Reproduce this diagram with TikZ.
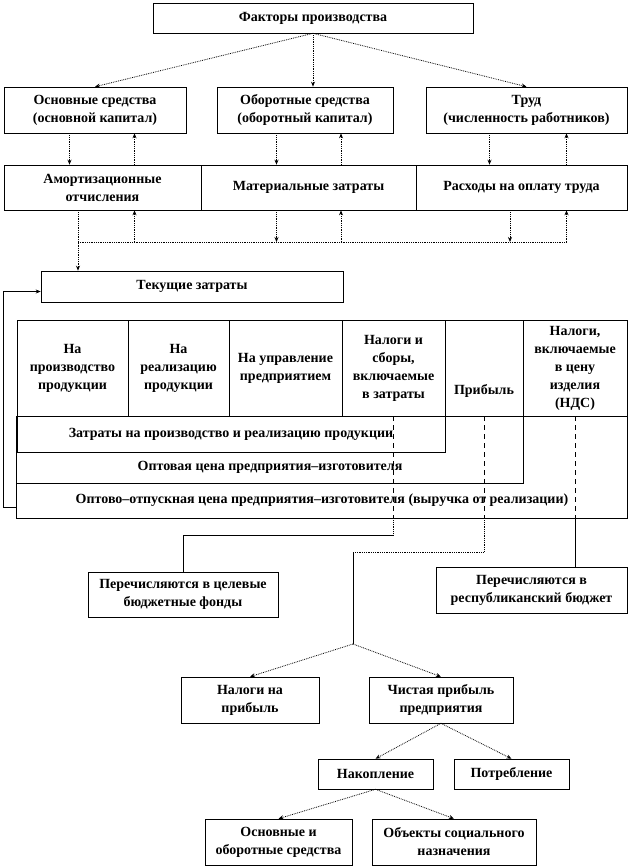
\documentclass[tikz,border=0pt]{standalone}
\usepackage{fontspec}
\setmainfont{Liberation Serif}
\usetikzlibrary{arrows.meta}

\begin{document}
\begin{tikzpicture}[x=1pt,y=-1pt,line width=0.6pt,
        >={Stealth[length=5pt,width=4pt]},
        lbl/.style={align=center,inner sep=2pt,
            font=\fontsize{14}{18}\selectfont\bfseries},
        box/.style={lbl,draw},
        dt/.style={densely dotted,line width=0.8pt},
        dsh/.style={dash pattern=on 5pt off 4pt}]
        \useasboundingbox (0,0) rectangle (628,868);

        % Factors
        \node[box,minimum width=320pt,minimum height=30pt] (fp) at (313,18) {Факторы производства};

        % Resources
        \node[box,minimum width=182pt,minimum height=46pt] (os) at (95,110) {Основные средства\\(основной капитал)};
        \node[box,minimum width=176pt,minimum height=46pt] (ob) at (305,110) {Оборотные средства\\(оборотный капитал)};
        \node[box,minimum width=201pt,minimum height=46pt] (tr) at (526.5,110) {Труд\\(численность работников)};

        % Costs
        \node[box,minimum width=197pt,minimum height=45pt] (am) at (102.5,187.5) {Амортизационные\\отчисления};
        \node[box,minimum width=215pt,minimum height=45pt] (mz) at (308.5,187.5) {Материальные затраты};
        \node[box,minimum width=211pt,minimum height=45pt] (ro) at (521.5,187.5) {Расходы на оплату труда};
        \node[box,minimum width=302pt,minimum height=31pt] (tz) at (192,286.5) {Текущие затраты};

        % Table (head)
        \node[box,minimum width=111pt,minimum height=96pt] (h1) at (72.5,368) {На\\производство\\продукции};
        \node[box,minimum width=101pt,minimum height=96pt] (h2) at (178.5,368) {На\\реализацию\\продукции};
        \node[box,minimum width=113pt,minimum height=96pt] (h3) at (285.5,368) {На управление\\предприятием};
        \node[box,minimum width=103pt,minimum height=96pt] (h4) at (393.5,368) {Налоги и\\сборы,\\включаемые\\в затраты};
        \node[box,minimum width=78pt,minimum height=96pt,text height=56pt,text depth=3pt] (h5) at (484,368) {Прибыль};
        \node[box,minimum width=104pt,minimum height=96pt] (h6) at (575,368) {Налоги,\\включаемые\\в цену\\изделия\\(НДС)};

        % Table (rows)
        \node[box,minimum width=428pt,minimum height=36pt] (zr) at (231,434) {Затраты на производство и реализацию продукции};
        \node[lbl,minimum width=506pt,minimum height=31pt] (oc) at (270,467.5) {Оптовая цена предприятия–изготовителя};
        \node[lbl,minimum width=610pt,minimum height=35pt] (otp) at (322,500.5) {Оптово–отпускная цена предприятия–изготовителя (выручка от реализации)};
        \draw (h1.south west) -- (otp.south west) -- (otp.south east) -- (h6.south east);
        \draw (oc.south west) -- (oc.south east) -- (h5.south east);

        % Distribution
        \node[box,minimum width=190pt,minimum height=45pt] (cf) at (183,594.5) {Перечисляются в целевые\\бюджетные фонды};
        \node[box,minimum width=191pt,minimum height=46pt] (rb) at (531.5,590) {Перечисляются в\\республиканский бюджет};
        \node[box,minimum width=138pt,minimum height=46pt] (np) at (250,700) {Налоги на\\прибыль};
        \node[box,minimum width=144pt,minimum height=46pt] (chp) at (441,700) {Чистая прибыль\\предприятия};
        \node[box,minimum width=115pt,minimum height=30pt] (nak) at (375.5,774) {Накопление};
        \node[box,minimum width=115pt,minimum height=30pt] (potr) at (511.5,774) {Потребление};
        \node[box,minimum width=147pt,minimum height=46pt] (osr) at (278.5,842) {Основные и\\оборотные средства};
        \node[box,minimum width=164pt,minimum height=46pt] (soc) at (454,842) {Объекты социального\\назначения};

        % Factors -> resources
        \draw[dt,->] (fp.south) -- (os.north);
        \draw[dt,->] (fp.south) -- (fp.south |- ob.north);
        \draw[dt,->] (fp.south) -- (tr.north);

        % Resources <-> costs
        \draw[dt,->] (os.south -| 69.5,0) -- (am.north -| 69.5,0);
        \draw[dt,->] (am.north -| 134.5,0) -- (os.south -| 134.5,0);
        \draw[dt,->] (ob.south -| 276.5,0) -- (mz.north -| 276.5,0);
        \draw[dt,->] (mz.north -| 341,0) -- (ob.south -| 341,0);
        \draw[dt,->] (tr.south -| 489.5,0) -- (ro.north -| 489.5,0);
        \draw[dt,->] (ro.north -| 566.5,0) -- (tr.south -| 566.5,0);

        % Costs -> current costs
        \coordinate (busL) at (78,242);
        \coordinate (busR) at (566.5,242);
        \draw[dt,->] (am.south -| busL) -- (tz.north -| busL);
        \draw[dt] (busL) -- (busR);
        \draw[dt,->] (busL -| 134.5,0) -- (am.south -| 134.5,0);
        \draw[dt,->] (mz.south -| 276.5,0) -- (busL -| 276.5,0);
        \draw[dt,->] (busL -| 341,0) -- (mz.south -| 341,0);
        \draw[dt,->] (ro.south -| 510,0) -- (busL -| 510,0);
        \draw[dt,->] (busR) -- (ro.south -| busR);

        % Revenue back to current costs
        \draw[->] ([yshift=-6.5pt]otp.west) -- ++(-13,0) |- ([yshift=-5pt]tz.west);

        % Taxes in costs
        \coordinate (k1) at (393.5,535);
        \draw[dsh] (h4.south) -- (h4.south |- otp.south);
        \draw[dt] (h4.south |- otp.south) -- (k1);
        \draw (k1) -| (cf.north);

        % Profit
        \coordinate (k2) at (484,552);
        \coordinate (k3) at (353,552);
        \coordinate (sp) at (353,644);
        \draw[dsh] (h5.south) -- (h5.south |- otp.south);
        \draw[dt] (h5.south |- otp.south) -- (k2) -- (k3);
        \draw (k3) -- (sp);
        \draw[dt,->] (sp) -- (np.north);
        \draw[dt,->] (sp) -- (chp.north);

        % VAT
        \draw[dsh] (h6.south) -- (h6.south |- otp.south);
        \draw (h6.south |- otp.south) -- (h6.south |- rb.north);

        % Net profit
        \draw[dt,->] (chp.south) -- (nak.north);
        \draw[dt,->] (chp.south) -- (potr.north);
        \draw[dt,->] (nak.south) -- (osr.north);
        \draw[dt,->] (nak.south) -- (soc.north);
\end{tikzpicture}
\end{document}
